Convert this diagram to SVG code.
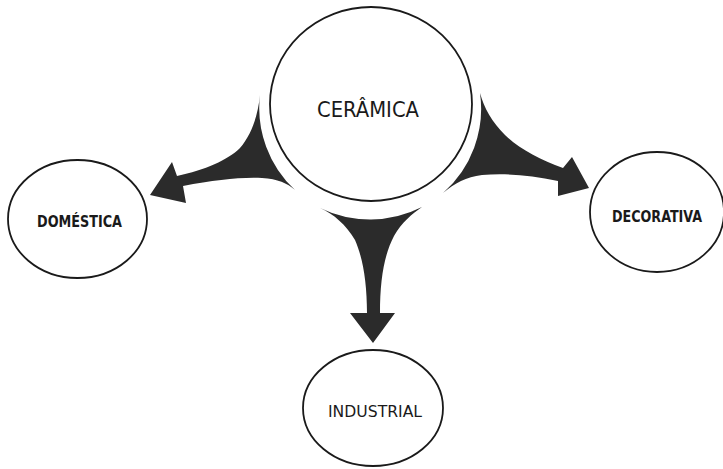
<svg xmlns="http://www.w3.org/2000/svg" width="723" height="469" viewBox="0 0 723 469">
<style>
.node{fill:#fff;stroke:#1a1a1a;stroke-width:1.8}
.arrow{fill:#2b2b2b;stroke:none}
.lbl{font-family:"DejaVu Sans Condensed","Liberation Sans",sans-serif;fill:#1a1a1a;text-anchor:start}
</style>
<rect width="723" height="469" fill="#fff"/>
<g id="connectors">
<path class="arrow" d="M260,95 A112,112 0 0 0 295,190 C287,183 278,179 262,178 C240,177 215,180 183,186 L186,203 L150,195 L172,162 L177,176 C205,170 228,160 240,148 C252,134 258,115 260,95 Z"/>
<path class="arrow" d="M480,93 A112,112 0 0 1 443,193 C455,183 466,177 482,175 C505,173 530,175 558,181 L558,196 L589,188 L572,157 L563,168 C540,160 518,148 505,135 C492,122 484,108 480,93 Z"/>
<path class="arrow" d="M320,208 A115,115 0 0 0 422,207 C412,214 402,222 394,236 C384,255 380,280 380,313 L395,313 L373,343 L350,313 L367,313 C367,283 363,258 355,240 C346,225 334,214 320,208 Z"/>
</g>
<g id="ceramica">
<ellipse class="node" cx="371" cy="104" rx="101" ry="97"/>
<text class="lbl" x="317" y="117" font-size="21" textLength="102" lengthAdjust="spacingAndGlyphs">CERÂMICA</text>
</g>
<g id="domestica">
<ellipse class="node" cx="77.5" cy="219" rx="69.5" ry="59"/>
<text class="lbl" x="37" y="227" font-size="16" font-weight="bold" textLength="85" lengthAdjust="spacingAndGlyphs">DOMÉSTICA</text>
</g>
<g id="industrial">
<ellipse class="node" cx="373" cy="408" rx="70" ry="58"/>
<text class="lbl" x="328" y="417" font-size="15" textLength="94" lengthAdjust="spacingAndGlyphs">INDUSTRIAL</text>
</g>
<g id="decorativa">
<ellipse class="node" cx="657" cy="212" rx="67" ry="60"/>
<text class="lbl" x="612" y="222" font-size="16" font-weight="bold" textLength="90" lengthAdjust="spacingAndGlyphs">DECORATIVA</text>
</g>
</svg>
